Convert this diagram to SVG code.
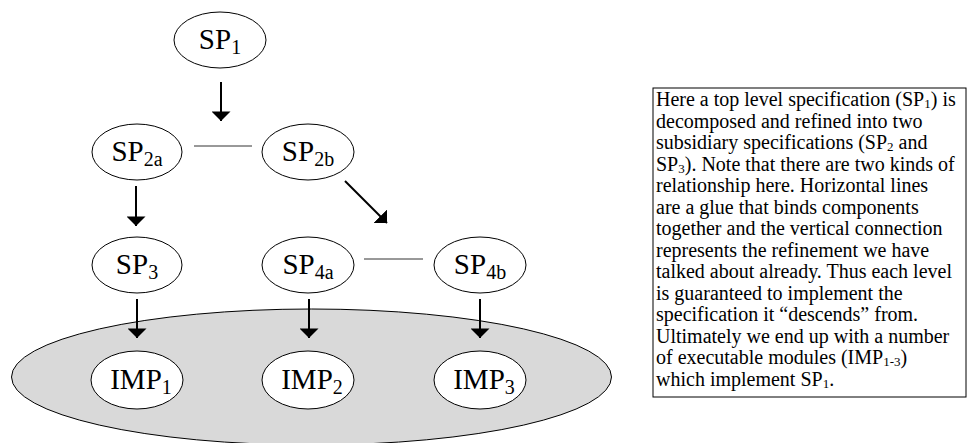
<svg xmlns="http://www.w3.org/2000/svg" width="974" height="443" viewBox="0 0 974 443">
<defs>
<marker id="ah" viewBox="0 0 10 20" refX="10" refY="10" markerWidth="10" markerHeight="19" markerUnits="userSpaceOnUse" orient="auto">
<path d="M0,0 L10,10 L0,20 z" fill="#000"/>
</marker>
<style>
.n{fill:#fff;stroke:#000;stroke-width:1}
.lbl{font-family:"Liberation Serif","Times New Roman",serif;font-size:29px;fill:#000;text-anchor:middle}
.sub{font-size:20px}
.arr{stroke:#000;stroke-width:2;fill:none;marker-end:url(#ah)}
.glue{stroke:#333;stroke-width:1}
.txt{font-family:"Liberation Serif","Times New Roman",serif;font-size:20px;fill:#000}
.ts{font-size:13px}
</style>
</defs>
<rect width="974" height="443" fill="#fff"/>
<g id="implementation-area">
<ellipse cx="311.5" cy="377" rx="300" ry="68" fill="#d9d9d9" stroke="#000" stroke-width="1"/>
</g>
<g id="connectors">
<line class="arr" x1="221" y1="82" x2="221" y2="121"/>
<line class="glue" x1="194" y1="146" x2="252" y2="146"/>
<line class="arr" x1="136" y1="186" x2="136" y2="226"/>
<line class="arr" x1="345" y1="181" x2="387" y2="223"/>
<line class="glue" x1="364" y1="259" x2="423" y2="259"/>
<line class="arr" x1="137" y1="299" x2="137" y2="338"/>
<line class="arr" x1="309" y1="299" x2="309" y2="338"/>
<line class="arr" x1="480" y1="299" x2="480" y2="338"/>
</g>
<g id="SP1"><ellipse class="n" cx="220" cy="40" rx="46" ry="28"/><text class="lbl" x="220" y="49">SP<tspan class="sub" dy="5">1</tspan></text></g>
<g id="SP2a"><ellipse class="n" cx="137" cy="152" rx="45" ry="28"/><text class="lbl" x="137" y="161">SP<tspan class="sub" dy="5">2a</tspan></text></g>
<g id="SP2b"><ellipse class="n" cx="308" cy="152" rx="46" ry="28"/><text class="lbl" x="308" y="161">SP<tspan class="sub" dy="5">2b</tspan></text></g>
<g id="SP3"><ellipse class="n" cx="137" cy="265" rx="45" ry="28"/><text class="lbl" x="137" y="274">SP<tspan class="sub" dy="5">3</tspan></text></g>
<g id="SP4a"><ellipse class="n" cx="308" cy="265" rx="46" ry="28"/><text class="lbl" x="308" y="274">SP<tspan class="sub" dy="5">4a</tspan></text></g>
<g id="SP4b"><ellipse class="n" cx="480" cy="265" rx="46" ry="28"/><text class="lbl" x="480" y="274">SP<tspan class="sub" dy="5">4b</tspan></text></g>
<g id="IMP1"><ellipse class="n" cx="137" cy="380" rx="46" ry="29"/><text class="lbl" x="141" y="389">IMP<tspan class="sub" dy="5">1</tspan></text></g>
<g id="IMP2"><ellipse class="n" cx="308" cy="380" rx="46" ry="29"/><text class="lbl" x="312" y="389">IMP<tspan class="sub" dy="5">2</tspan></text></g>
<g id="IMP3"><ellipse class="n" cx="480" cy="380" rx="46" ry="29"/><text class="lbl" x="484" y="389">IMP<tspan class="sub" dy="5">3</tspan></text></g>
<g id="description">
<rect x="653" y="88" width="313" height="309" fill="#fff" stroke="#000" stroke-width="1"/>
<text class="txt">
<tspan x="656" y="106">Here a top level specification (SP<tspan class="ts" dy="2">1</tspan><tspan dy="-2">) is</tspan></tspan>
<tspan x="656" y="127.5">decomposed and refined into two</tspan>
<tspan x="656" y="149">subsidiary specifications (SP<tspan class="ts" dy="2">2</tspan><tspan dy="-2"> and</tspan></tspan>
<tspan x="656" y="170.5">SP<tspan class="ts" dy="2">3</tspan><tspan dy="-2">). Note that there are two kinds of</tspan></tspan>
<tspan x="656" y="192">relationship here. Horizontal lines</tspan>
<tspan x="656" y="213.5">are a glue that binds components</tspan>
<tspan x="656" y="235">together and the vertical connection</tspan>
<tspan x="656" y="256.5">represents the refinement we have</tspan>
<tspan x="656" y="278">talked about already. Thus each level</tspan>
<tspan x="656" y="299.5">is guaranteed to implement the</tspan>
<tspan x="656" y="321">specification it “descends” from.</tspan>
<tspan x="656" y="342.5">Ultimately we end up with a number</tspan>
<tspan x="656" y="364">of executable modules (IMP<tspan class="ts" dy="2">1-3</tspan><tspan dy="-2">)</tspan></tspan>
<tspan x="656" y="385.5">which implement SP<tspan class="ts" dy="2">1</tspan><tspan dy="-2">.</tspan></tspan>
</text>
</g>
</svg>
